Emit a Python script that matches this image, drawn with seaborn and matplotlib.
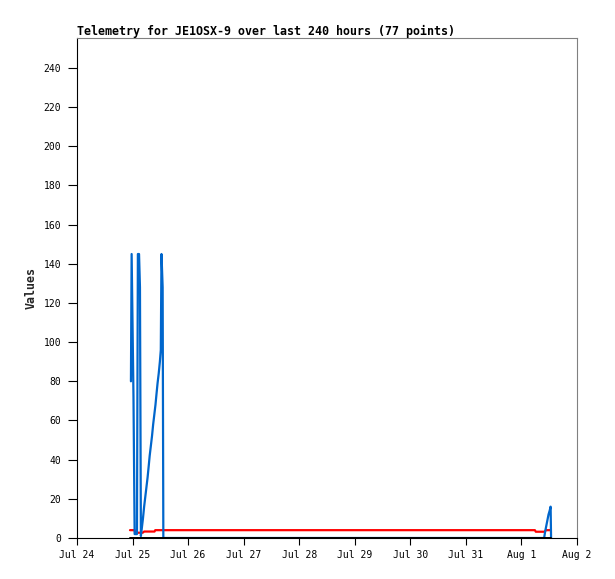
import matplotlib
matplotlib.use("Agg")
import matplotlib.pyplot as plt
import matplotlib.dates as mdates
import seaborn as sns
import pandas as pd
import numpy as np

sns.set_style("ticks")
plt.rcParams['font.family'] = ['DejaVu Sans Mono', 'Liberation Mono']

START = pd.Timestamp("2024-07-24 00:00")

# hours since Jul 24 00:00 and values
blue_hours = [23.3, 23.6, 24.4, 24.9, 25.9, 26.3, 26.8, 27.2, 27.6,
              28.0, 28.5, 29.0, 29.5, 30.0, 30.5, 31.0, 31.4, 31.9, 32.4,
              32.9, 33.4, 33.9, 34.3, 34.8, 35.3, 35.8, 36.2,
              36.5, 37.0, 37.3,
              201.8, 202.2, 202.7, 203.2, 203.7, 204.2, 204.6, 204.8]
blue_vals = [80, 145, 72, 2, 2, 145, 145, 128, 1,
             5, 10, 16, 21, 26, 31, 37, 42, 47, 52,
             58, 63, 68, 73, 79, 84, 90, 96,
             145, 128, 0,
             0, 3, 6, 9, 12, 14, 16, 0]

red_hours = [22.9, 24.9, 25.1, 28.4, 29.0, 33.5, 33.8, 197.8, 198.2, 202.0, 202.6, 204.5]
red_vals = [4.0, 4.0, 2.7, 2.7, 3.3, 3.3, 4.0, 4.0, 3.2, 3.2, 4.0, 4.0]

black_hours = [22.9, 204.8]
black_vals = [0, 0]

title = "Telemetry for JE1OSX-9 over last 240 hours (77 points)"
ylabel = "Values"
day_ticks = pd.date_range("2024-07-24", "2024-08-02", freq="D")
y_ticks = list(range(0, 241, 20))


def frame(hours, vals, name):
    return pd.DataFrame({
        "time": [START + pd.Timedelta(hours=h) for h in hours],
        "value": vals,
        "series": name,
    })


df = pd.concat([frame(red_hours, red_vals, "red"),
                frame(blue_hours, blue_vals, "blue"),
                frame(black_hours, black_vals, "black")], ignore_index=True)

fig = plt.figure(figsize=(6.15, 5.79), dpi=100)
ax = fig.add_axes([77/615, 1-538/579, 500/615, 500/579])

palette = {"red": "#ff0000", "blue": "#0066cc", "black": "#000000"}
widths = {"red": 1.6, "blue": 1.6, "black": 1.4}
for name in ["red", "blue", "black"]:
    sub = df[df.series == name]
    sns.lineplot(data=sub, x="time", y="value", ax=ax, color=palette[name],
                 linewidth=widths[name], estimator=None, sort=False, legend=False)

ax.set_xlim(day_ticks[0], day_ticks[-1])
ax.set_ylim(0, 255.3)
ax.set_xticks(day_ticks)
ax.xaxis.set_major_formatter(mdates.DateFormatter("%b %-d"))
ax.set_yticks(y_ticks)
ax.set_xlabel("")
ax.set_ylabel(ylabel, fontsize=8.4, fontweight="bold", labelpad=0)
ax.yaxis.set_label_coords(-0.078, 0.5)

ax.tick_params(axis="y", length=6.5, width=0.8, pad=5, labelsize=7, colors="black")
ax.tick_params(axis="x", length=5, width=0.8, pad=4, labelsize=7, colors="black")

for s in ["left", "bottom"]:
    ax.spines[s].set_color("black")
    ax.spines[s].set_linewidth(0.8)
for s in ["top", "right"]:
    ax.spines[s].set_visible(True)
    ax.spines[s].set_color("#808080")
    ax.spines[s].set_linewidth(0.8)

fig.text(77/615, 1-35/579, title, ha="left", va="baseline",
         fontsize=8.4, fontweight="bold", color="black")

fig.savefig("out.png", dpi=100)
